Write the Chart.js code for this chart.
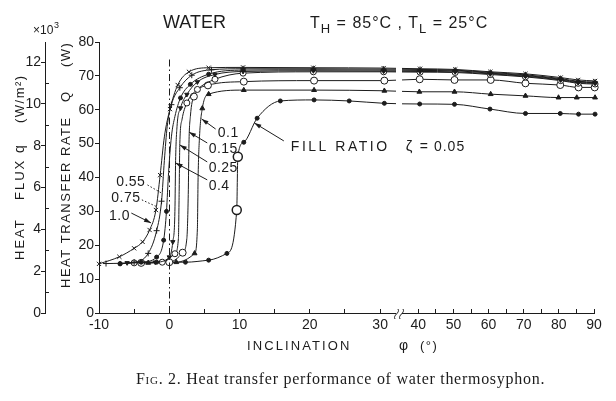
<!DOCTYPE html>
<html>
<head>
<meta charset="utf-8">
<script src="https://cdn.jsdelivr.net/npm/chart.js@4.4.1/dist/chart.umd.min.js"></script>
<style>
  html, body { margin: 0; padding: 0; background: #fff; }
  #wrap { position: relative; width: 616px; height: 401px; overflow: hidden; }
  #chart { position: absolute; left: 0; top: 0; }
  .txt { position: absolute; color: #1c1c1c; font-family: "Liberation Sans", Arial, sans-serif; white-space: nowrap; }
  #water { left: 163px; top: 13px; font-size: 18px; line-height: 18px; }
  #temps { left: 310px; top: 15px; font-size: 16px; line-height: 16px; letter-spacing: 1px; }
  #temps sub { font-size: 13px; line-height: 0; vertical-align: -5px; }
  #caption { left: 136px; top: 371px; font-family: "Liberation Serif", "Times New Roman", serif; font-size: 16px; line-height: 16px; letter-spacing: 0.72px; }
</style>
</head>
<body>
<div id="wrap">
  <canvas id="chart" width="616" height="401"></canvas>
  <div class="txt" id="water">WATER</div>
  <div class="txt" id="temps">T<sub>H</sub> = 85°C , T<sub>L</sub> = 25°C</div>
  <div class="txt" id="caption"><span style="font-variant: small-caps">Fig.</span> 2. Heat transfer performance of water thermosyphon.</div>
</div>
<script>
// Readings per fill ratio: inclination φ (deg) and heat transfer rate Q (W)
const phi100 = [-10, -7.1, -5.0, -3.8, -2.8, -1.9, -1.3, -0.7, 0.1, 1.2, 2.8, 5.6, 10.5, 20.5, 30.5, 40.5, 50.5, 60.5, 70.5, 80.5, 85.5, 90.3];
const q100   = [14.5, 16.6, 19.1, 21.0, 24.5, 30.4, 40.7, 52.0, 60.2, 67.3, 71.2, 72.4, 72.5, 72.4, 72.3, 72.1, 71.9, 71.2, 70.6, 69.5, 68.8, 68.5];

const phi075 = [-9.0, -5.0, -3.0, -1.8, -1.1, -0.7, -0.3, 0.3, 1.5, 3.2, 6.0, 10.5, 20.5, 30.5, 40.5, 50.5, 60.5, 70.5, 80.5, 85.5, 90.3];
const q075   = [14.6, 15.0, 17.6, 24.3, 33.0, 45.0, 55.0, 61.5, 66.5, 70.2, 71.8, 72.1, 72.1, 72.0, 71.9, 71.7, 71.0, 70.3, 69.2, 68.4, 68.2];

const phi055 = [-7.0, -4.0, -1.8, -0.8, -0.4, -0.1, 0.3, 0.8, 1.6, 3.0, 5.6, 10.5, 20.5, 30.5, 40.5, 50.5, 60.5, 70.5, 80.5, 85.5, 90.3];
const q055   = [14.6, 15.0, 16.5, 21.5, 30.0, 41.5, 52.0, 58.0, 63.5, 67.5, 70.5, 71.7, 71.8, 71.7, 71.6, 71.5, 70.8, 70.1, 69.0, 68.2, 68.0];

const phi040 = [-6.0, -2.0, 0.0, 0.5, 0.8, 0.9, 1.1, 1.6, 2.5, 4.0, 6.5, 10.5, 20.5, 30.5, 40.5, 50.5, 60.5, 70.5, 80.5, 85.5, 90.3];
const q040   = [14.8, 15.0, 16.5, 21.0, 30.0, 45.0, 55.0, 60.5, 64.5, 68.2, 70.4, 71.3, 71.5, 71.4, 71.3, 71.2, 70.6, 69.9, 68.8, 68.0, 67.8];

const phi025 = [-5.0, -1.0, 0.8, 1.3, 1.4, 1.5, 1.8, 2.5, 4.0, 6.5, 10.5, 20.5, 30.5, 40.5, 50.5, 60.5, 70.5, 80.5, 85.5, 90.3];
const q025   = [14.8, 15.0, 17.5, 22.0, 35.0, 50.0, 57.0, 62.0, 66.0, 69.0, 70.8, 71.2, 71.2, 71.1, 71.0, 70.4, 69.7, 68.6, 67.8, 67.6];

const phi015 = [-4.0, 0.0, 1.9, 2.5, 2.7, 2.8, 3.0, 3.5, 5.5, 10.6, 20.6, 30.6, 40.4, 50.3, 60.6, 70.5, 80.4, 85.6, 90.2];
const q015   = [14.8, 15.0, 17.8, 22.0, 35.0, 50.0, 58.0, 63.9, 67.2, 68.3, 68.6, 68.6, 69.0, 68.8, 68.8, 67.8, 67.3, 66.6, 66.6];

const phi010 = [-3.0, 1.0, 3.6, 4.0, 4.1, 4.3, 4.7, 5.6, 10.6, 20.6, 30.6, 40.3, 50.3, 60.6, 70.5, 79.9, 85.1, 90.3];
const q010   = [14.8, 15.0, 17.6, 25.0, 40.0, 52.0, 60.4, 64.6, 65.8, 65.8, 65.6, 65.3, 65.3, 64.6, 64.1, 63.6, 63.6, 63.6];

const phi005 = [-7.0, -3.9, -1.8, 2.3, 5.6, 8.2, 9.6, 9.75, 10.6, 12.5, 15.8, 20.6, 25.6, 30.6, 40.4, 50.3, 60.4, 70.5, 80.4, 85.6, 90.3];
const q005   = [14.5, 15.0, 15.0, 15.0, 15.6, 17.6, 30.4, 46.1, 50.4, 57.5, 62.6, 62.9, 62.6, 61.9, 61.7, 61.6, 60.2, 58.9, 58.9, 58.7, 58.7];
const bigMarks005 = [6, 7]; // the two large open circles on the 0.05 curve

// Axis ticks
const angleTicks = [-10, -5, 0, 5, 10, 15, 20, 25, 30, 40, 45, 50, 55, 60, 65, 70, 75, 80, 85, 90];
const fluxTicks = [0, 1, 2, 3, 4, 5, 6, 7, 8, 9, 10, 11, 12];
const FLUX_PER_WATT = 0.162; // q (x10^3 W/m2) per W

// broken angle axis: -10..30 full scale, 40..90 at half scale
const BREAK_GAP = 5.43;
function toU(phi) { return phi <= 34 ? phi : 30 + BREAK_GAP + (phi - 40) / 2; }
function fromU(u) { return u <= 33 ? u : 40 + (u - 30 - BREAK_GAP) * 2; }

const ink = '#1c1c1c';
const sans = '"Liberation Sans", Arial, sans-serif';

Chart.defaults.font.family = sans;
Chart.defaults.color = ink;

// r: marker radius; bare: Q range of the steep rise drawn without markers
function makeSet(label, phi, watts, style, r, bare, extra) {
    return Object.assign({
        label: label,
        data: phi.map((p, i) => ({ x: toU(p), y: watts[i] })),
        borderColor: ink,
        borderWidth: 1,
        pointStyle: style,
        pointRadius: c => {
            const v = c.raw ? c.raw.y : 0;
            return bare && v > bare[0] && v < bare[1] ? 0 : r;
        },
        pointBorderColor: ink,
        pointBackgroundColor: ink,
        pointBorderWidth: 1,
        cubicInterpolationMode: 'monotone',
        clip: 6
    }, extra || {});
}

const datasets = [
    makeSet('1.0', phi100, q100, 'crossRot', 3, [45, 58]),
    makeSet('0.75', phi075, q075, 'cross', 3, [38, 58]),
    makeSet('0.55', phi055, q055, 'circle', 2, [32, 60]),
    makeSet('0.4', phi040, q040, 'triangle', 2.5, [22, 60], { pointRotation: 180 }),
    makeSet('0.25', phi025, q025, 'circle', 3, [19, 60], { pointBackgroundColor: '#fff' }),
    makeSet('0.15', phi015, q015, 'circle', 3.5, [19, 60], { pointBackgroundColor: '#fff' }),
    makeSet('0.1', phi010, q010, 'triangle', 2.8, [19, 59]),
    makeSet('0.05', phi005, q005, 'circle', 2, null, {
        pointRadius: c => bigMarks005.includes(c.dataIndex) ? 4.5 : 2,
        pointBackgroundColor: c => bigMarks005.includes(c.dataIndex) ? '#fff' : ink,
        pointBorderWidth: c => bigMarks005.includes(c.dataIndex) ? 1.5 : 1
    })
];

// Fill ratio labels with their leaders, placed in (φ, Q)
const ratioNotes = [
    { text: '0.1',  align: 'left',  at: [6.9, 53.1],  from: [6.6, 54.3],  to: [4.6, 57.3] },
    { text: '0.15', align: 'left',  at: [5.6, 48.4],  from: [5.4, 50.2],  to: [2.8, 53.4] },
    { text: '0.25', align: 'left',  at: [5.6, 42.8],  from: [5.4, 44.6],  to: [1.5, 49.6] },
    { text: '0.4',  align: 'left',  at: [5.6, 37.5],  from: [5.4, 39.3],  to: [0.9, 44.3] },
    { text: '0.55', align: 'right', at: [-3.4, 38.7], from: [-3.1, 37.8], to: [-1.1, 35.4], dotted: true },
    { text: '0.75', align: 'right', at: [-4.1, 33.9], from: [-3.9, 33.4], to: [-1.7, 31.3], dotted: true },
    { text: '1.0',  align: 'right', at: [-5.6, 28.6], from: [-5.4, 29.5], to: [-2.6, 26.6] }
];

function leader(ctx, x1, y1, x2, y2, dotted) {
    ctx.save();
    ctx.strokeStyle = ink;
    ctx.fillStyle = ink;
    ctx.lineWidth = 1;
    if (dotted) ctx.setLineDash([1.5, 2]);
    ctx.beginPath();
    ctx.moveTo(x1, y1);
    ctx.lineTo(x2, y2);
    ctx.stroke();
    if (!dotted) {
        const a = Math.atan2(y2 - y1, x2 - x1);
        ctx.beginPath();
        ctx.moveTo(x2, y2);
        ctx.lineTo(x2 - 7 * Math.cos(a) + 2.2 * Math.sin(a), y2 - 7 * Math.sin(a) - 2.2 * Math.cos(a));
        ctx.lineTo(x2 - 7 * Math.cos(a) - 2.2 * Math.sin(a), y2 - 7 * Math.sin(a) + 2.2 * Math.cos(a));
        ctx.closePath();
        ctx.fill();
    }
    ctx.restore();
}

function spaced(ctx, str, x, y, ls, font) {
    ctx.font = font;
    ctx.letterSpacing = ls + 'px';
    ctx.fillText(str, x, y);
}

function upText(ctx, str, x, yStart, ls, font) {
    ctx.save();
    ctx.translate(x, yStart);
    ctx.rotate(-Math.PI / 2);
    ctx.textAlign = 'left';
    ctx.textBaseline = 'middle';
    spaced(ctx, str, 0, 0, ls, font);
    ctx.restore();
}

const decor = {
    id: 'decor',
    afterDraw(chart) {
        const { ctx, chartArea, scales } = chart;
        const xs = scales.x, ys = scales.y, qs = scales.q;
        const px = phi => xs.getPixelForValue(toU(phi));
        const py = w => ys.getPixelForValue(w);
        ctx.save();

        // break in the angle axis
        const bx = Math.round(xs.getPixelForValue(30 + BREAK_GAP / 2));
        ctx.fillStyle = '#fff';
        ctx.fillRect(bx - 3, chartArea.top - 4, 6, chartArea.bottom - chartArea.top + 6);
        ctx.strokeStyle = ink;
        ctx.lineWidth = 1;
        [-2.5, 2.5].forEach(dx => {
            const cx = bx + dx, by = chartArea.bottom + 1;
            ctx.beginPath();
            ctx.moveTo(cx - 1.5, by + 5);
            ctx.bezierCurveTo(cx - 4, by + 1, cx + 4, by - 1, cx + 1.5, by - 5);
            ctx.stroke();
        });

        // dash-dot line at φ = 0
        const x0 = Math.round(px(0)) + 0.5;
        ctx.setLineDash([7, 3, 1.5, 3]);
        ctx.beginPath();
        ctx.moveTo(x0, py(0));
        ctx.lineTo(x0, py(75.6));
        ctx.stroke();
        ctx.setLineDash([]);

        // minor ticks of the heat flux axis point inward
        fluxTicks.filter(v => v % 2).forEach(v => {
            const yy = Math.round(qs.getPixelForValue(v)) + 0.5;
            ctx.beginPath();
            ctx.moveTo(qs.right, yy);
            ctx.lineTo(qs.right + 4, yy);
            ctx.stroke();
        });

        ctx.fillStyle = ink;
        ctx.textBaseline = 'middle';

        // x10^3 on top of the flux axis
        ctx.textAlign = 'left';
        spaced(ctx, '×10', qs.right - 12, qs.top - 11, 0, '12px ' + sans);
        spaced(ctx, '3', qs.right + 9, qs.top - 16, 0, '9px ' + sans);

        // fill ratio labels
        ratioNotes.forEach(n => {
            ctx.textAlign = n.align;
            spaced(ctx, n.text, px(n.at[0]), py(n.at[1]), 0.5, '14px ' + sans);
            leader(ctx, px(n.from[0]), py(n.from[1]), px(n.to[0]), py(n.to[1]), n.dotted);
        });
        const fx = px(17.3), fy = py(49);
        ctx.textAlign = 'left';
        spaced(ctx, 'FILL RATIO', fx, fy, 2.5, '14px ' + sans);
        spaced(ctx, 'ζ', fx + 115, fy, 0, '15px ' + sans);
        spaced(ctx, '= 0.05', fx + 129, fy, 1, '14px ' + sans);
        leader(ctx, px(16.3), py(50.8), px(12.1), py(56.1), false);

        // axis titles
        const xTitleY = chartArea.bottom + 33;
        spaced(ctx, 'INCLINATION', 247, xTitleY, 2.1, '13px ' + sans);
        spaced(ctx, 'φ', 399, xTitleY, 0, '14px ' + sans);
        spaced(ctx, '(°)', 420, xTitleY, 1.5, '13px ' + sans);

        const qx = ys.left + 21;
        upText(ctx, 'HEAT TRANSFER RATE', qx, 288, 1.5, '13px ' + sans);
        upText(ctx, 'Q', qx, 102, 0, '13px ' + sans);
        upText(ctx, '(W)', qx, 67, 1.5, '13px ' + sans);

        const fxq = qs.left + 20;
        upText(ctx, 'HEAT', fxq, 260, 2, '13px ' + sans);
        upText(ctx, 'FLUX', fxq, 200, 2, '13px ' + sans);
        upText(ctx, 'q', fxq, 153, 0, '14px ' + sans);
        upText(ctx, '(W/m²)', fxq, 123, 1.5, '13px ' + sans);

        ctx.restore();
    }
};

const tickFont = { size: 14, family: sans };

const chart = new Chart(document.getElementById('chart'), {
    type: 'line',
    data: { datasets: datasets },
    options: {
        responsive: false,
        animation: false,
        layout: { padding: { top: 42, right: 22, bottom: 0, left: 0 } },
        plugins: {
            legend: { display: false },
            tooltip: { enabled: false }
        },
        scales: {
            x: {
                type: 'linear',
                position: 'bottom',
                min: -10,
                max: toU(90),
                afterBuildTicks: s => { s.ticks = angleTicks.map(p => ({ value: toU(p) })); },
                afterFit: s => { s.height = 88; },
                grid: { drawOnChartArea: false, tickLength: -4, color: ink, tickColor: ink },
                border: { color: ink, width: 1 },
                ticks: {
                    autoSkip: false,
                    maxRotation: 0,
                    padding: 8,
                    color: ink,
                    font: tickFont,
                    callback: v => {
                        const p = Math.round(fromU(v));
                        return p % 10 === 0 ? String(p) : '';
                    }
                }
            },
            y: {
                position: 'left',
                weight: 0,
                min: 0,
                max: 80,
                afterFit: s => { s.width = 54; },
                grid: { drawOnChartArea: false, tickLength: 4, color: ink, tickColor: ink },
                border: { color: ink, width: 1 },
                ticks: { stepSize: 10, padding: 1, color: ink, font: tickFont }
            },
            q: {
                position: 'left',
                weight: 1,
                min: 0,
                max: 80 * FLUX_PER_WATT,
                afterBuildTicks: s => { s.ticks = fluxTicks.map(v => ({ value: v })); },
                afterFit: s => { s.width = 45; },
                grid: {
                    drawOnChartArea: false,
                    tickLength: 4,
                    color: ink,
                    tickColor: c => (c.tick && c.tick.value % 2) ? 'rgba(0,0,0,0)' : ink
                },
                border: { color: ink, width: 1 },
                ticks: {
                    padding: 0,
                    color: ink,
                    font: tickFont,
                    callback: v => v % 2 === 0 ? String(v) : ''
                }
            }
        }
    },
    plugins: [decor]
});
</script>
</body>
</html>
